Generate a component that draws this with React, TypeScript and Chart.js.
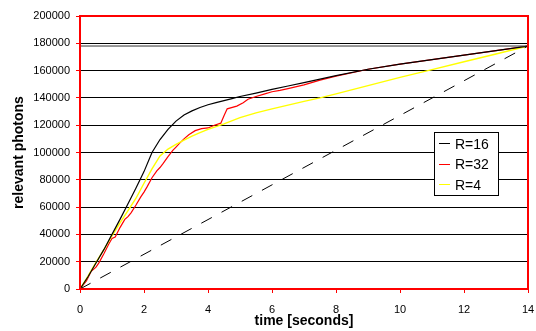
import React, { useEffect, useRef } from "react";
import { Chart, registerables } from "chart.js";

Chart.register(...registerables);

const FONT = "Arial, 'Liberation Sans', sans-serif";

const xTicks = [0, 2, 4, 6, 8, 10, 12, 14];
const yTicks = [0, 20000, 40000, 60000, 80000, 100000, 120000, 140000, 160000, 180000, 200000];

const tR16 = [0, 0.25, 0.5, 0.75, 1, 1.25, 1.5, 1.75, 2, 2.25, 2.5, 2.75, 3, 3.25, 3.5, 3.75, 4, 4.25, 4.5, 4.75, 5, 5.5, 6, 6.5, 7, 7.5, 8, 9, 10, 11, 12, 13, 14];
const vR16 = [0, 9000, 19000, 29000, 40000, 51000, 62500, 74000, 86000, 100000, 109500, 117000, 123000, 127500, 130500, 133000, 135000, 136500, 138000, 139500, 141000, 143500, 146200, 148700, 151200, 153700, 156300, 161000, 164700, 168000, 171400, 174700, 178000];

const tR32 = [0, 0.2, 0.35, 0.5, 0.6, 0.75, 0.9, 1, 1.1, 1.25, 1.4, 1.5, 1.6, 1.75, 1.9, 2, 2.1, 2.25, 2.4, 2.5, 2.6, 2.75, 2.9, 3, 3.1, 3.25, 3.4, 3.6, 3.8, 4, 4.2, 4.4, 4.5, 4.6, 4.9, 5.1, 5.25, 5.5, 5.75, 6, 6.25, 6.5, 7, 7.5, 8, 9, 10, 11, 12, 13, 14];
const vR32 = [0, 6000, 13000, 16000, 19500, 26000, 33000, 37000, 38000, 45000, 51000, 53000, 56000, 61500, 67500, 71000, 75000, 81500, 86500, 89000, 92000, 97000, 101500, 104000, 106500, 110000, 113000, 116000, 117500, 118000, 120000, 121500, 127000, 132000, 134000, 136500, 139000, 141000, 142800, 144500, 145500, 146800, 149500, 153000, 156000, 161000, 164700, 168000, 171400, 174700, 178000];

const tR4 = [0, 0.25, 0.5, 0.75, 1, 1.25, 1.5, 1.75, 2, 2.25, 2.5, 2.75, 3, 3.25, 3.5, 3.75, 4, 4.25, 4.5, 5, 5.5, 6, 7, 7.5, 8, 9, 10, 11, 12, 13, 14];
const vR4 = [0, 9500, 19500, 29000, 39000, 48500, 57500, 66500, 77500, 88000, 97500, 102500, 106000, 109000, 112000, 114500, 117000, 119000, 121000, 125500, 129000, 132000, 137500, 140000, 143000, 149000, 155000, 160700, 166500, 172200, 178000];

const refT = [0, 14];
const diagV = [0, 178000];
const finalV = [178000, 178000];

const seriesNames = ["R=16", "R=32", "R=4"];
const seriesColors = ["#000000", "#ff0000", "#ffff00"];

const pts = (ts: number[], vs: number[]) => ts.map((t, i) => ({ x: t, y: vs[i] }));

const framePlugin = {
  id: "frameAndLegend",
  afterDraw(chart: any) {
    const { ctx, chartArea } = chart;
    const { left, right, top, bottom } = chartArea;
    ctx.save();
    ctx.strokeStyle = "#ff0000";
    ctx.lineWidth = 2;
    ctx.strokeRect(left, top, right - left, bottom - top);

    // legend box
    const bx = 434, by = 132, bw = 64, bh = 63;
    ctx.fillStyle = "#ffffff";
    ctx.fillRect(bx, by, bw, bh);
    ctx.strokeStyle = "#000000";
    ctx.lineWidth = 1;
    ctx.strokeRect(bx + 0.5, by + 0.5, bw, bh);
    const rows = [144, 164.5, 185];
    ctx.font = `14px ${FONT}`;
    ctx.textBaseline = "middle";
    ctx.textAlign = "left";
    seriesNames.forEach((name, i) => {
      ctx.strokeStyle = seriesColors[i];
      ctx.beginPath();
      ctx.moveTo(439, Math.round(rows[i] - 1) + 0.5);
      ctx.lineTo(450, Math.round(rows[i] - 1) + 0.5);
      ctx.stroke();
      ctx.fillStyle = "#000000";
      ctx.fillText(name, 455, rows[i] + 1);
    });
    ctx.restore();
  },
};

export default function App() {
  const ref = useRef<HTMLCanvasElement | null>(null);
  useEffect(() => {
    document.body.style.margin = "0";
    const chart = new Chart(ref.current as HTMLCanvasElement, {
      type: "line",
      data: {
        datasets: [
          { label: "diag", data: pts(refT, diagV), borderColor: "#000000", borderWidth: 1, borderDash: [12, 11], pointRadius: 0, tension: 0 },
          { label: "final", data: pts(refT, finalV), borderColor: "#333333", borderWidth: 1, pointRadius: 0 },
          { label: seriesNames[0], data: pts(tR16, vR16), borderColor: seriesColors[0], borderWidth: 1.2, pointRadius: 0 },
          { label: seriesNames[2], data: pts(tR4, vR4), borderColor: seriesColors[2], borderWidth: 1.4, pointRadius: 0 },
          { label: seriesNames[1], data: pts(tR32, vR32), borderColor: seriesColors[1], borderWidth: 1.2, pointRadius: 0 },
        ],
      },
      options: {
        animation: false,
        responsive: true,
        maintainAspectRatio: false,
        layout: { padding: { left: 0, right: 8, top: 16, bottom: 0 } },
        plugins: { legend: { display: false }, tooltip: { enabled: false } },
        scales: {
          x: {
            type: "linear",
            min: 0,
            max: 14,
            afterBuildTicks: (s: any) => { s.ticks = xTicks.map((v) => ({ value: v })); },
            afterFit: (s: any) => { s.height = 42; s.paddingLeft = 0; s.paddingRight = 0; },
            border: { display: false },
            grid: { drawOnChartArea: false, drawTicks: true, tickLength: 4, tickColor: "#ff0000" },
            ticks: { color: "#000", font: { family: FONT, size: 11 }, padding: 10, maxRotation: 0 },
            title: { display: true, text: "time [seconds]", color: "#000", font: { family: FONT, size: 14, weight: "bold" }, padding: { top: 0, bottom: 1 } },
          },
          y: {
            type: "linear",
            min: 0,
            max: 200000,
            afterBuildTicks: (s: any) => { s.ticks = yTicks.map((v) => ({ value: v })); },
            afterFit: (s: any) => { s.width = 80; s.paddingTop = 0; s.paddingBottom = 0; },
            border: { display: false },
            grid: { color: "#000000", lineWidth: 1, drawTicks: true, tickLength: 4, tickColor: "#ff0000" },
            ticks: { color: "#000", font: { family: FONT, size: 11 }, padding: 6, callback: (v: any) => String(v) },
            title: { display: true, text: "relevant photons", color: "#000", font: { family: FONT, size: 14, weight: "bold" }, padding: { top: 11, bottom: 0 } },
          },
        },
      },
      plugins: [framePlugin],
    });
    return () => chart.destroy();
  }, []);
  return (
    <div style={{ position: "absolute", left: 0, top: 0, width: 536, height: 331, background: "#fff" }}>
      <canvas ref={ref} />
    </div>
  );
}
